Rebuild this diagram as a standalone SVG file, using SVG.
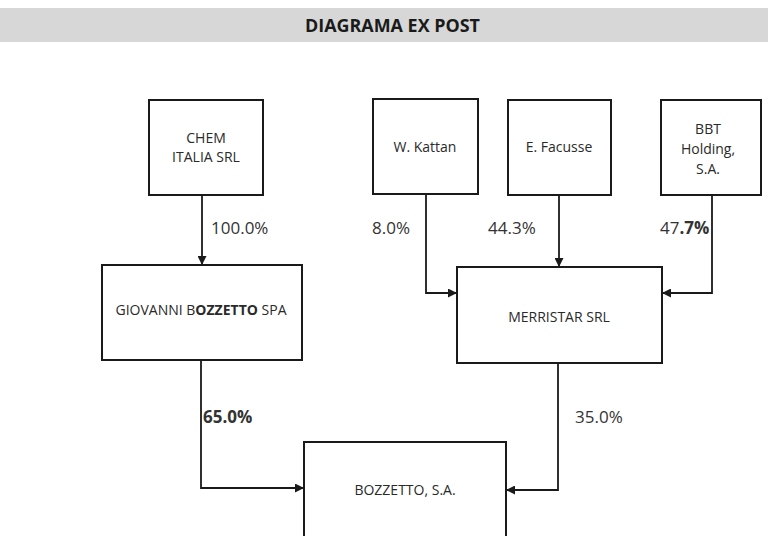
<svg xmlns="http://www.w3.org/2000/svg" width="768" height="536" viewBox="0 0 768 536">
<defs>
<style>
.box{fill:#fff;stroke:#1a1a1a;stroke-width:2}
.lbl{font-family:"Open Sans","Liberation Sans",sans-serif;font-size:14px;fill:#2a2a2a;text-anchor:middle}
.pct{font-family:"Open Sans","Liberation Sans",sans-serif;font-size:17px;fill:#333}
.conn{fill:none;stroke:#1a1a1a;stroke-width:1.8}
</style>
<marker id="arr" viewBox="0 0 10 10" refX="10" refY="5" markerWidth="10" markerHeight="9" markerUnits="userSpaceOnUse" orient="auto">
<path d="M0,0 L10,5 L0,10 z" fill="#1a1a1a"/>
</marker>
</defs>
<rect x="0" y="0" width="768" height="536" fill="#fff"/>
<rect x="0" y="8" width="768" height="34" fill="#d7d7d7"/>
<text x="305" y="32" font-family="Open Sans,Liberation Sans,sans-serif" font-size="18" font-weight="bold" fill="#1a1a1a" textLength="175" lengthAdjust="spacingAndGlyphs">DIAGRAMA EX POST</text>

<g id="connectors">
<path class="conn" d="M202,195 V265" marker-end="url(#arr)"/>
<path class="conn" d="M426,194 V293 H457" marker-end="url(#arr)"/>
<path class="conn" d="M559,195 V267" marker-end="url(#arr)"/>
<path class="conn" d="M712,195 V293 H662" marker-end="url(#arr)"/>
<path class="conn" d="M201,360 V488 H304" marker-end="url(#arr)"/>
<path class="conn" d="M558,363 V490 H506" marker-end="url(#arr)"/>
</g>

<g id="labels">
<text class="pct" x="211" y="234">100.0%</text>
<text class="pct" x="372" y="234">8.0%</text>
<text class="pct" x="488" y="234">44.3%</text>
<text class="pct" x="660" y="234">47<tspan font-weight="bold">.7%</tspan></text>
<text class="pct" x="203" y="423" font-weight="bold">65.0%</text>
<text class="pct" x="575" y="423">35.0%</text>
</g>

<g id="chem">
<rect class="box" x="149" y="100" width="114" height="95"/>
<text class="lbl" x="206" y="143" font-size="13">CHEM</text>
<text class="lbl" x="206" y="162" font-size="13">ITALIA SRL</text>
</g>
<g id="kattan">
<rect class="box" x="373" y="99" width="105" height="95"/>
<text class="lbl" x="425" y="152">W. Kattan</text>
</g>
<g id="facusse">
<rect class="box" x="508" y="100" width="103" height="95"/>
<text class="lbl" x="559" y="152">E. Facusse</text>
</g>
<g id="bbt">
<rect class="box" x="661" y="100" width="100" height="95"/>
<text class="lbl" x="708" y="134">BBT</text>
<text class="lbl" x="708" y="154">Holding,</text>
<text class="lbl" x="708" y="174">S.A.</text>
</g>
<g id="giovanni">
<rect class="box" x="102" y="265" width="200" height="95"/>
<text class="lbl" x="201" y="315">GIOVANNI B<tspan font-weight="bold">OZZETTO</tspan> SPA</text>
</g>
<g id="merristar">
<rect class="box" x="457" y="267" width="205" height="96"/>
<text class="lbl" x="559" y="322">MERRISTAR SRL</text>
</g>
<g id="bozzetto">
<rect class="box" x="304" y="442" width="202" height="110"/>
<text class="lbl" x="405" y="495">BOZZETTO, S.A.</text>
</g>
</svg>
